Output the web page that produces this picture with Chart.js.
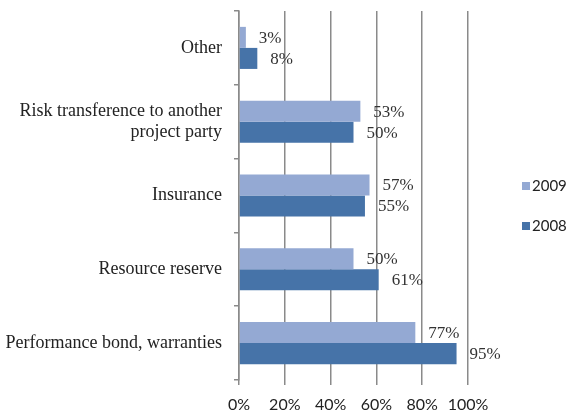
<!DOCTYPE html>
<html><head><meta charset="utf-8">
<script src="https://cdn.jsdelivr.net/npm/chart.js@4"></script>
<style>html,body{margin:0;padding:0;background:#fff}#wrap{width:568px;height:414px}</style>
</head><body><div id="wrap"><canvas id="c" width="568" height="414"></canvas></div>
<script>
const categories = ["Other", ["Risk transference to another", "project party"], "Insurance", "Resource reserve", "Performance bond, warranties"];
const series2009 = [3, 53, 57, 50, 77];
const series2008 = [8, 50, 55, 61, 95];
const seriesNames = ["2009", "2008"];
const xTicks = [0, 20, 40, 60, 80, 100];
const colors = ["#94A9D3", "#4673A8"];

const serif = "'Liberation Serif', serif";
const sans = "Lato, 'Liberation Sans', sans-serif";

const labelPlugin = {
  id: 'barLabels',
  afterDatasetsDraw(chart) {
    const ctx = chart.ctx;
    ctx.save();
    ctx.font = "17px " + serif;
    ctx.fillStyle = "#333";
    ctx.textAlign = "left";
    ctx.textBaseline = "middle";
    chart.data.datasets.forEach((ds, i) => {
      chart.getDatasetMeta(i).data.forEach((bar, j) => {
        ctx.fillText(ds.data[j] + "%", bar.x + 13, bar.y + 1);
      });
    });
    ctx.restore();
  }
};
const legendPlugin = {
  id: 'sideLegend',
  afterDraw(chart) {
    const ctx = chart.ctx;
    ctx.save();
    ctx.font = "15px " + sans;
    ctx.textBaseline = "middle";
    const ys = [186, 226];
    chart.data.datasets.forEach((ds, i) => {
      ctx.fillStyle = ds.backgroundColor;
      ctx.fillRect(522, ys[i] - 4, 8, 8);
      ctx.fillStyle = "#222";
      ctx.fillText(ds.label, 532, ys[i]);
    });
    ctx.restore();
  }
};

new Chart(document.getElementById('c'), {
  type: 'bar',
  data: {
    labels: categories,
    datasets: [
      { label: seriesNames[0], data: series2009, backgroundColor: colors[0], categoryPercentage: 0.57, barPercentage: 1.0 },
      { label: seriesNames[1], data: series2008, backgroundColor: colors[1], categoryPercentage: 0.57, barPercentage: 1.0 }
    ]
  },
  options: {
    indexAxis: 'y',
    responsive: false,
    animation: false,
    devicePixelRatio: 1,
    layout: { padding: { top: 11, right: 100, left: 5, bottom: 0 } },
    plugins: { legend: { display: false }, tooltip: { enabled: false } },
    scales: {
      x: {
        min: 0, max: 100,
        afterBuildTicks(axis) { axis.ticks = xTicks.map(v => ({ value: v })); },
        afterFit(axis) { axis.height = 34; axis.paddingLeft = 0; axis.paddingRight = 0; },
        border: { display: false },
        grid: { color: "#8a8a8a", lineWidth: 1.5, tickLength: 5, drawTicks: true },
        ticks: { callback: v => v + "%", color: "#222", font: { family: sans, size: 16 }, padding: 10, maxRotation: 0 }
      },
      y: {
        offset: true,
        afterFit(axis) { axis.width = 234; axis.paddingTop = 0; axis.paddingBottom = 0; },
        border: { display: true, color: "#8a8a8a", width: 1.5 },
        grid: { offset: true, drawOnChartArea: false, color: "#8a8a8a", lineWidth: 1.5, tickLength: 5 },
        ticks: { color: "#222", font: { family: serif, size: 18 }, padding: 12 }
      }
    }
  },
  plugins: [labelPlugin, legendPlugin]
});
</script></body></html>
